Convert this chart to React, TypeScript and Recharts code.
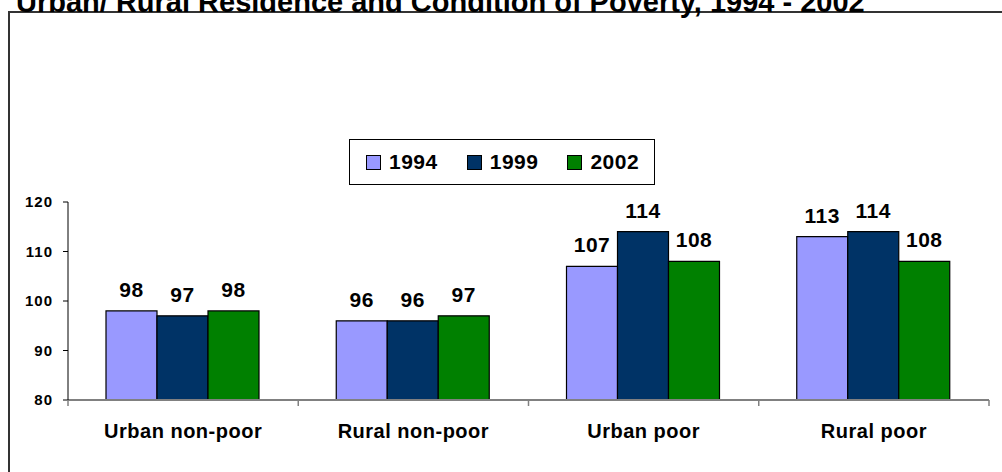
import { BarChart, Bar, XAxis, YAxis, LabelList, Legend } from 'recharts';

const categories = ['Urban non-poor', 'Rural non-poor', 'Urban poor', 'Rural poor'];
const values1994 = [98, 96, 107, 113];
const values1999 = [97, 96, 114, 114];
const values2002 = [98, 97, 108, 108];
const yTicks = [80, 90, 100, 110, 120];

const seriesList = [
  { key: 'y1994', name: '1994', color: '#9999FF', values: values1994 },
  { key: 'y1999', name: '1999', color: '#003366', values: values1999 },
  { key: 'y2002', name: '2002', color: '#008000', values: values2002 },
];

const data = categories.map((category, i) => {
  const row: Record<string, string | number> = { category };
  seriesList.forEach((s) => {
    row[s.key] = s.values[i];
  });
  return row;
});

const FONT = '"Liberation Sans", Arial, sans-serif';
const WIDTH = 1002;
const HEIGHT = 472;
const MARGIN = { top: 202, right: 13, bottom: 42, left: 8 };
const Y_AXIS_WIDTH = 60;
const PLOT_WIDTH = WIDTH - MARGIN.left - Y_AXIS_WIDTH - MARGIN.right;
const BAND = PLOT_WIDTH / categories.length;

// category label plus the boundary tick marks Excel draws between groups
function CategoryTick(props: any) {
  const { x, y, payload, index } = props;
  const axisY = y - 6;
  const left = x - BAND / 2;
  const right = x + BAND / 2;
  return (
    <g>
      <line x1={left} y1={axisY} x2={left} y2={axisY + 6} stroke="#808080" strokeWidth={1.5} />
      {index === categories.length - 1 && (
        <line x1={right} y1={axisY} x2={right} y2={axisY + 6} stroke="#808080" strokeWidth={1.5} />
      )}
      <text
        x={x}
        y={axisY + 38}
        textAnchor="middle"
        fontFamily={FONT}
        fontWeight="bold"
        fontSize={20}
        letterSpacing={0.5}
        fill="#000"
      >
        {payload.value}
      </text>
    </g>
  );
}

function LegendBox() {
  return (
    <div
      style={{
        boxSizing: 'border-box',
        width: 306,
        height: 46,
        border: '1px solid #000',
        background: '#fff',
        display: 'flex',
        alignItems: 'center',
        paddingLeft: 16,
        fontFamily: FONT,
        fontWeight: 'bold',
        fontSize: 21,
        letterSpacing: 0.5,
      }}
    >
      {seriesList.map((s) => (
        <div key={s.key} style={{ display: 'flex', alignItems: 'center', marginRight: 29 }}>
          <span
            style={{
              display: 'inline-block',
              boxSizing: 'border-box',
              width: 15,
              height: 15,
              background: s.color,
              border: '1px solid #000',
              marginRight: 8,
            }}
          />
          <span>{s.name}</span>
        </div>
      ))}
    </div>
  );
}

export default function App() {
  return (
    <div
      style={{
        position: 'fixed',
        left: 0,
        top: 0,
        width: WIDTH,
        height: HEIGHT,
        overflow: 'hidden',
        background: '#fff',
      }}
    >
      <div
        style={{
          position: 'absolute',
          left: 8,
          top: 11,
          width: WIDTH,
          height: HEIGHT,
          borderLeft: '2px solid #333',
          borderTop: '2px solid #333',
        }}
      />
      <svg
        width={WIDTH}
        height={30}
        style={{ position: 'absolute', left: 0, top: 0 }}
      >
        <text
          x={16}
          y={12}
          fontFamily={FONT}
          fontWeight="bold"
          fontSize={29}
          fill="#000"
        >
          Urban/ Rural Residence and Condition of Poverty, 1994 - 2002
        </text>
      </svg>
      <div style={{ position: 'absolute', left: 0, top: 0 }}>
        <BarChart
          width={WIDTH}
          height={HEIGHT}
          data={data}
          margin={MARGIN}
          barGap={0}
          barCategoryGap={38}
        >
          <XAxis
            dataKey="category"
            height={30}
            axisLine={{ stroke: '#808080', strokeWidth: 2 }}
            tickLine={false}
            tickSize={6}
            tickMargin={0}
            tick={<CategoryTick />}
            interval={0}
          />
          <YAxis
            width={Y_AXIS_WIDTH}
            domain={[80, 120]}
            ticks={yTicks}
            allowDataOverflow
            axisLine={{ stroke: '#000' }}
            tickLine={{ stroke: '#000' }}
            tickSize={5}
            tickMargin={10}
            tick={{ fontFamily: FONT, fontWeight: 'bold', fontSize: 15, letterSpacing: 1, fill: '#000' }}
          />
          <Legend
            layout="horizontal"
            verticalAlign="middle"
            align="center"
            wrapperStyle={{ left: 349, top: 139, width: 306, height: 46 }}
            content={() => <LegendBox />}
          />
          {seriesList.map((s) => (
            <Bar
              key={s.key}
              dataKey={s.key}
              name={s.name}
              fill={s.color}
              stroke="#000"
              strokeWidth={1.2}
              isAnimationActive={false}
            >
              <LabelList
                dataKey={s.key}
                position="top"
                offset={14}
                fontFamily={FONT}
                fontWeight="bold"
                fontSize={21}
                letterSpacing={0.5}
                fill="#000"
              />
            </Bar>
          ))}
        </BarChart>
      </div>
    </div>
  );
}
